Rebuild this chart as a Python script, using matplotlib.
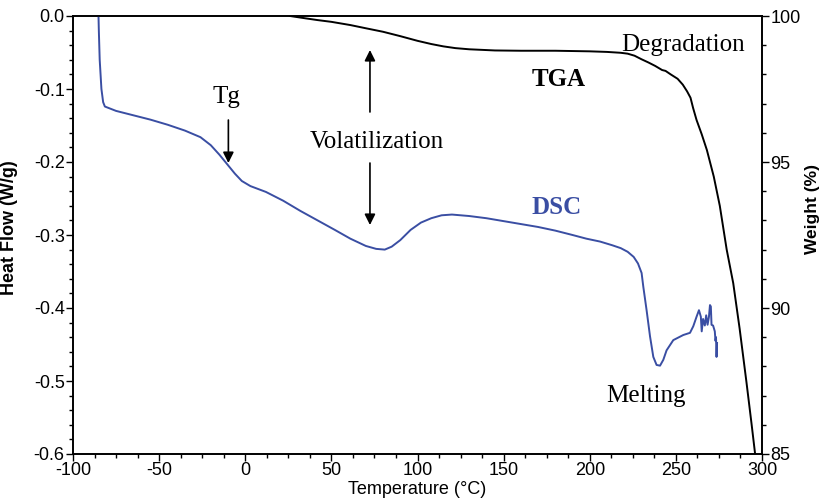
import matplotlib
matplotlib.use("Agg")
import matplotlib.pyplot as plt
from matplotlib.ticker import MultipleLocator

# ---------------- data ----------------
dsc_temp = [-85.3, -85.0, -84.5, -83.5, -82.5, -81.5, -75, -65, -55, -45, -35, -26, -20, -15,
            -10.5, -6, -2, 3, 12, 22, 32, 42, 52, 61, 70, 76, 81, 85, 90, 96, 102, 108, 114,
            120, 130, 140, 150, 160, 170, 180, 190, 198, 206, 213, 218, 222, 225.5, 228,
            230.1, 231.1, 233.0, 235.0, 236.9, 238.8, 240.8, 242.7, 244.6, 248.5, 254.3,
            258.2, 260.1, 262.0, 263.4, 264.5, 265.0, 265.8, 266.8, 267.6, 268.4, 269.2,
            269.8, 270.3, 270.7, 271.6, 272.6, 273.0, 273.3, 273.6, 273.9]
dsc_flow = [0.01, -0.02, -0.06, -0.10, -0.118, -0.124, -0.130, -0.136, -0.142, -0.149, -0.157,
            -0.166, -0.177, -0.190, -0.203, -0.216, -0.226, -0.233, -0.241, -0.253, -0.267,
            -0.280, -0.293, -0.305, -0.315, -0.319, -0.320, -0.316, -0.307, -0.293, -0.283,
            -0.277, -0.273, -0.272, -0.274, -0.277, -0.281, -0.285, -0.289, -0.294, -0.300,
            -0.305, -0.309, -0.314, -0.318, -0.323, -0.330, -0.339,
            -0.352, -0.371, -0.403, -0.439, -0.467, -0.478, -0.479, -0.471, -0.458, -0.444,
            -0.437, -0.434, -0.425, -0.412, -0.403, -0.412, -0.432, -0.415, -0.424, -0.410,
            -0.423, -0.412, -0.396, -0.398, -0.423, -0.424, -0.432, -0.445, -0.440, -0.467,
            -0.448]

tga_temp = [26, 35, 42, 50, 61, 70, 80, 90, 100, 108, 115, 122, 130, 145, 160, 180, 200, 210,
            218, 222, 226, 230, 234, 238, 242, 244, 247, 251, 254, 256.5, 258.5, 260, 262,
            265, 268, 272, 275.5, 279.5, 283.3, 287, 291, 294, 296, 297]
tga_weight = [100.0, 99.92, 99.86, 99.80, 99.69, 99.58, 99.46, 99.31, 99.15, 99.04, 98.96,
              98.90, 98.86, 98.82, 98.81, 98.81, 98.79, 98.77, 98.74, 98.71, 98.64, 98.52,
              98.41, 98.29, 98.15, 98.12, 98.00, 97.85, 97.65, 97.42, 97.20, 96.85, 96.44,
              95.95, 95.41, 94.50, 93.50, 92.00, 90.85, 89.30, 87.45, 86.00, 85.0, 84.5]

x_ticks = [-100, -50, 0, 50, 100, 150, 200, 250, 300]
left_ticks = [0.0, -0.1, -0.2, -0.3, -0.4, -0.5, -0.6]
right_ticks = [85, 90, 95, 100]

# ---------------- figure ----------------
blue = "#3a4ea3"
sans = "Liberation Sans"
serif = "Liberation Serif"

fig = plt.figure(figsize=(8.23, 5.01), dpi=100)
ax = fig.add_axes([73/823, 1-454/501, (762-73)/823, (454-16)/501])
ax2 = ax.twinx()

ax.plot(dsc_temp, dsc_flow, color=blue, lw=1.4, zorder=3)
ax2.plot(tga_temp, tga_weight, color="black", lw=1.4)

ax.set_xlim(-100, 300)
ax.set_ylim(-0.6, 0.0)
ax2.set_ylim(85, 100)

ax.set_xticks(x_ticks)
ax.set_xticklabels([str(v) for v in x_ticks])
ax.set_yticks(left_ticks)
ax.set_yticklabels([f"{v:.1f}" for v in left_ticks])
ax2.set_yticks(right_ticks)
ax.xaxis.set_minor_locator(MultipleLocator(12.5))
ax.yaxis.set_minor_locator(MultipleLocator(0.02))
ax2.yaxis.set_minor_locator(MultipleLocator(1))

for a in (ax, ax2):
    for s in a.spines.values():
        s.set_linewidth(1.2)
    a.tick_params(which="major", length=5, width=1, labelsize=13, pad=1)
    a.tick_params(which="minor", length=3, width=1)
ax.tick_params(axis="x", which="both", top=False, direction="out")
ax.tick_params(axis="y", which="both", right=False, direction="out")
ax2.tick_params(axis="y", which="both", direction="out")
for lab in ax.get_xticklabels() + ax.get_yticklabels() + ax2.get_yticklabels():
    lab.set_fontfamily(sans)

ax.set_xlabel("Temperature (°C)", fontfamily=sans, fontsize=13, labelpad=1)
ax.set_ylabel("Heat Flow (W/g)", fontfamily=sans, fontsize=13, fontweight="bold")
ax.yaxis.set_label_coords(-0.08, 0.516)
ax2.set_ylabel("Weight (%)", fontfamily=sans, fontsize=12.5, fontweight="bold")
ax2.yaxis.set_label_coords(1.063, 0.56)

# annotations
arrow_kw = dict(arrowstyle="-|>", color="black", lw=1.2, mutation_scale=16, shrinkA=0, shrinkB=0)
ax.annotate("", xy=(-9.8, -0.2014), xytext=(-9.8, -0.1425), arrowprops=arrow_kw)
ax.annotate("", xy=(72.4, -0.0466), xytext=(72.4, -0.1315), arrowprops=arrow_kw)
ax.annotate("", xy=(72.4, -0.2863), xytext=(72.4, -0.2014), arrowprops=arrow_kw)

ax.text(-10.9, -0.1105, "Tg", fontfamily=serif, fontsize=18, ha="center", va="center")
ax.text(76.3, -0.172, "Volatilization", fontfamily=serif, fontsize=18, ha="center", va="center")
ax.text(254.1, -0.0397, "Degradation", fontfamily=serif, fontsize=18, ha="center", va="center")
ax.text(182.2, -0.0868, "TGA", fontfamily=serif, fontsize=18, fontweight="bold", ha="center", va="center")
ax.text(180.8, -0.262, "DSC", fontfamily=serif, fontsize=18, fontweight="bold", color=blue,
        ha="center", va="center")
ax.text(232.8, -0.5205, "Melting", fontfamily=serif, fontsize=18, ha="center", va="center")

fig.savefig("out.png", dpi=100)
